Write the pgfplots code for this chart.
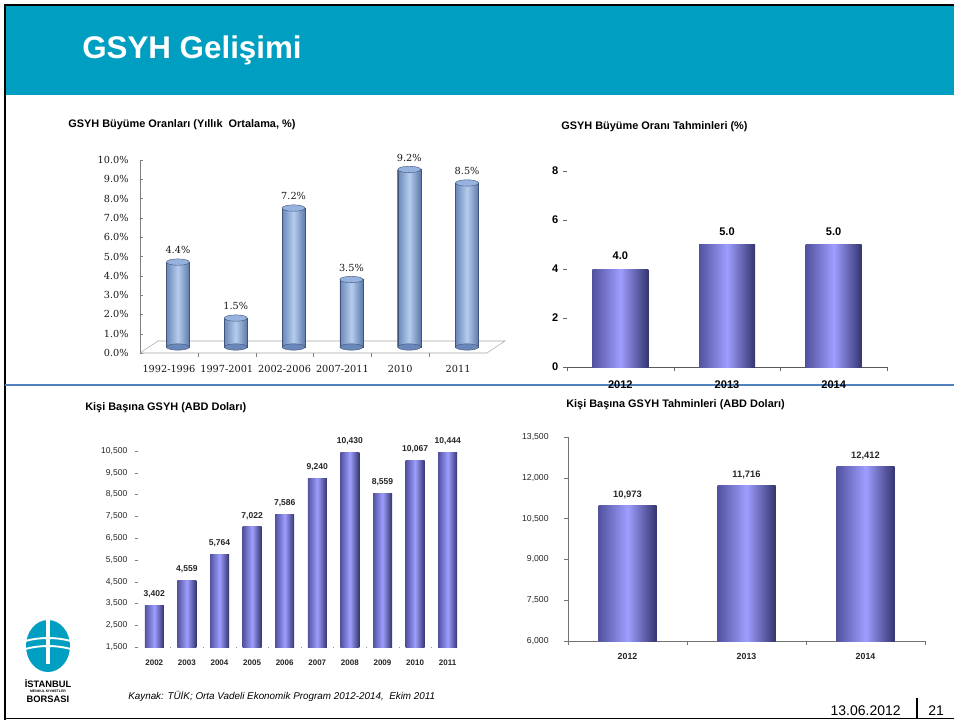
\documentclass[border=0pt]{standalone}
\usepackage{fontspec}
\setmainfont{Liberation Sans}
\newfontfamily\dserif{DejaVu Serif}
\usepackage{pgfplots}
\pgfplotsset{compat=1.18}
\pgfkeys{/pgf/number format/assume math mode=true}
\definecolor{teal1}{RGB}{0,159,194}
\definecolor{sepblue}{RGB}{79,129,189}
\definecolor{pL}{RGB}{82,82,160}
\definecolor{pM}{RGB}{158,158,255}
\definecolor{pR}{RGB}{52,52,112}
\definecolor{cL}{RGB}{105,135,185}
\definecolor{cM}{RGB}{182,204,236}
\definecolor{cR}{RGB}{92,122,172}
\definecolor{cTop}{RGB}{150,178,222}
\definecolor{axgray}{RGB}{128,128,128}
\pgfdeclareplotmark{cyl}{%
  \pgfpathellipse{\pgfpointorigin}{\pgfqpoint{8.6pt}{0pt}}{\pgfqpoint{0pt}{2.4pt}}%
  \pgfusepathqfillstroke}
\pgfplotsset{
  pbar/.style={ybar, bar width=#1, draw=none, left color=pL, right color=pR, middle color=pM, forget plot},
  cbar/.style={ybar, bar width=17.25pt, xshift=6.75pt, yshift=4.5pt, draw=cR!70!black, line width=0.3pt,
    left color=cL, right color=cR, middle color=cM, forget plot}
}
\begin{document}
\begin{tikzpicture}[x=0.75pt,y=-0.75pt]
\useasboundingbox (0,0) rectangle (954,722);
\fill[white] (0,0) rectangle (954,722);
\fill[teal1] (6,6) rectangle (954,95);
\draw[black,line width=2.2pt] (5,720) -- (5,5) -- (954,5);
\draw[black,line width=1.2pt] (5,718.5) -- (954,718.5);
\draw[sepblue,line width=2pt] (5,385) -- (954,385);
\node[anchor=base west,inner sep=0,text=white,font=\bfseries\fontsize{23.5}{26}\selectfont] at (82,58) {GSYH Gelişimi};
% subtitles
\node[anchor=base west,inner sep=0,font=\bfseries\fontsize{8.2}{10}\selectfont] at (68,127) {GSYH Büyüme Oranları (Yıllık\ \ Ortalama, \%)};
\node[anchor=base west,inner sep=0,font=\bfseries\fontsize{8.2}{10}\selectfont] at (561,129) {GSYH Büyüme Oranı Tahminleri (\%)};
\node[anchor=base west,inner sep=0,font=\bfseries\fontsize{8.2}{10}\selectfont] at (85,410) {Kişi Başına GSYH (ABD Doları)};
\node[anchor=base west,inner sep=0,font=\bfseries\fontsize{8.2}{10}\selectfont] at (566,407) {Kişi Başına GSYH Tahminleri (ABD Doları)};
% footer
\node[anchor=base west,inner sep=0,font=\itshape\fontsize{7.4}{9}\selectfont] at (128,699) {Kaynak: TÜİK; Orta Vadeli Ekonomik Program 2012-2014,\ \ Ekim 2011};
\node[anchor=base east,inner sep=0,font=\fontsize{10.5}{12}\selectfont] at (901,715) {13.06.2012};
\draw[black,line width=0.8pt] (917,698) -- (917,718);
\node[anchor=base west,inner sep=0,font=\fontsize{10.5}{12}\selectfont] at (928,715) {21};
% logo
\fill[teal1] (48,646) ellipse (22 and 26);
\fill[white] (46,619) rectangle (50,664);
\draw[white,line width=1.4pt] (25,641) .. controls (40,637) and (56,637) .. (71,641);
\draw[white,line width=1.4pt] (25,649) .. controls (40,645) and (56,645) .. (71,649);
\node[inner sep=0,font=\bfseries\fontsize{7}{8}\selectfont] at (48,684) {İSTANBUL};
\node[inner sep=0,font=\bfseries\fontsize{2.6}{3}\selectfont] at (48,691) {MENKUL KIYMETLER};
\node[inner sep=0,font=\bfseries\fontsize{7}{8}\selectfont] at (48,699) {BORSASI};

% ---------- Chart 1 ----------
\begin{axis}[at={(105pt,-264.75pt)}, anchor=south west, scale only axis,
  width=260.25pt, height=144.75pt,
  xmin=0.5, xmax=6.5, ymin=0, ymax=10,
  axis lines*=left, x axis line style={draw=none}, y axis line style={draw=axgray},
  ytick={0,1,...,10}, major tick length=2pt, tick style={axgray},
  yticklabel={\pgfmathprintnumber[fixed,fixed zerofill,precision=1]{\tick}\%},
  yticklabel style={font=\dserif\fontsize{7.3}{8}\selectfont, text=black!90, xshift=-5pt},
  xtick={1,...,6}, xticklabels={1992-1996,1997-2001,2002-2006,2007-2011,2010,2011},
  major x tick style={draw=none},
  minor xtick={1.5,2.5,3.5,4.5,5.5}, minor tick length=3pt, minor x tick style={axgray}, xtick align=outside,
  xticklabel style={font=\dserif\fontsize{7.3}{8}\selectfont, text=black!90, yshift=-4pt},
  clip=false]
\draw[axgray!70] (axis cs:0.5,0) -- ++(13.5pt,9pt) -- ([xshift=13.5pt,yshift=9pt]axis cs:6.5,0) -- (axis cs:6.5,0) -- cycle;
\addplot[only marks, xshift=6.75pt, yshift=4.5pt, mark=cyl, mark options={fill=cL, draw=cR!70!black, line width=0.3pt}]
  coordinates {(1,0)(2,0)(3,0)(4,0)(5,0)(6,0)};
\addplot[cbar] coordinates {(1,4.4)};
\addplot[cbar] coordinates {(2,1.5)};
\addplot[cbar] coordinates {(3,7.2)};
\addplot[cbar] coordinates {(4,3.5)};
\addplot[cbar] coordinates {(5,9.2)};
\addplot[cbar] coordinates {(6,8.5)};
\addplot[only marks, xshift=6.75pt, yshift=4.5pt, mark=cyl, mark options={fill=cTop, draw=cR!70!black, line width=0.3pt},
  nodes near coords={\pgfmathprintnumber[fixed,fixed zerofill,precision=1]{\pgfplotspointmeta}\%},
  nodes near coords style={font=\dserif\fontsize{7.3}{8}\selectfont, text=black!90, anchor=south, yshift=2.5pt}]
  coordinates {(1,4.4)(2,1.5)(3,7.2)(4,3.5)(5,9.2)(6,8.5)};
\end{axis}

% ---------- Chart 2 ----------
\begin{axis}[at={(425.25pt,-275.25pt)}, anchor=south west, scale only axis,
  width=240pt, height=147pt,
  xmin=0.5, xmax=3.5, ymin=0, ymax=8,
  axis lines*=left, y axis line style={draw=none}, x axis line style={draw=black!65},
  ytick={0,2,4,6,8}, tick align=outside, major tick length=3pt,
  major y tick style={black!60},
  yticklabel style={font=\bfseries\fontsize{8.3}{9}\selectfont},
  xtick={1,2,3}, xticklabels={2012,2013,2014}, major x tick style={draw=none},
  minor xtick={0.5,1.5,2.5,3.5}, minor tick length=3pt, minor x tick style={black!60},
  xticklabel style={font=\bfseries\fontsize{8.3}{9}\selectfont, yshift=-4pt},
  clip=false]
\addplot[pbar=42pt] coordinates {(1,4.0)};
\addplot[pbar=42pt] coordinates {(2,5.0)};
\addplot[pbar=42pt] coordinates {(3,5.0)};
\addplot[draw=none, mark=none,
  nodes near coords={\pgfmathprintnumber[fixed,fixed zerofill,precision=1]{\pgfplotspointmeta}},
  nodes near coords style={font=\bfseries\fontsize{8.3}{9}\selectfont, anchor=south, yshift=3.5pt}]
  coordinates {(1,4.0)(2,5.0)(3,5.0)};
\end{axis}

% ---------- Chart 3 ----------
\begin{axis}[at={(103.5pt,-485.25pt)}, anchor=south west, scale only axis,
  width=244.5pt, height=147pt,
  xmin=2001.5, xmax=2011.5, ymin=1500, ymax=10500,
  axis lines*=left, y axis line style={draw=none}, x axis line style={draw=none},
  scaled y ticks=false,
  ytick={1500,2500,...,10500}, tick align=outside, major tick length=2.5pt,
  major y tick style={black!50},
  yticklabel style={font=\fontsize{6.4}{7}\selectfont, text=black!85, xshift=-2pt},
  xtick={2002,...,2011}, xticklabels={2002,2003,2004,2005,2006,2007,2008,2009,2010,2011},
  major x tick style={draw=none},
  minor xtick={2002.5,2003.5,...,2010.5}, minor tick length=1pt, minor x tick style={black!40},
  xticklabel style={font=\bfseries\fontsize{6}{7}\selectfont, text=black!85, yshift=-4pt}]
\addplot[pbar=14.25pt] coordinates {(2002,3402)};
\addplot[pbar=14.25pt] coordinates {(2003,4559)};
\addplot[pbar=14.25pt] coordinates {(2004,5764)};
\addplot[pbar=14.25pt] coordinates {(2005,7022)};
\addplot[pbar=14.25pt] coordinates {(2006,7586)};
\addplot[pbar=14.25pt] coordinates {(2007,9240)};
\addplot[pbar=14.25pt] coordinates {(2008,10430)};
\addplot[pbar=14.25pt] coordinates {(2009,8559)};
\addplot[pbar=14.25pt] coordinates {(2010,10067)};
\addplot[pbar=14.25pt] coordinates {(2011,10444)};
\addplot[draw=none, mark=none, nodes near coords,
  nodes near coords style={font=\bfseries\fontsize{6.4}{7}\selectfont, text=black!85, anchor=south, yshift=2pt}]
  coordinates {(2002,3402)(2003,4559)(2004,5764)(2005,7022)(2006,7586)(2007,9240)(2008,10430)(2009,8559)(2010,10067)(2011,10444)};
\end{axis}

% ---------- Chart 4 ----------
\begin{axis}[at={(426pt,-480.75pt)}, anchor=south west, scale only axis,
  width=267.75pt, height=153pt,
  xmin=0.5, xmax=3.5, ymin=6000, ymax=13500,
  axis lines*=left, axis line style={draw=black!55},
  scaled y ticks=false,
  ytick={6000,7500,...,13500}, tick align=outside, major tick length=3pt,
  major y tick style={black!55},
  yticklabel style={font=\fontsize{6.5}{7}\selectfont, text=black!85, xshift=-8pt},
  xtick={1,2,3}, xticklabels={2012,2013,2014}, major x tick style={draw=none},
  minor xtick={0.5,1.5,2.5,3.5}, minor tick length=3pt, minor x tick style={black!55},
  xticklabel style={font=\bfseries\fontsize{6.6}{7}\selectfont, text=black!85, yshift=-3pt},
  clip=true]
\addplot[pbar=43.5pt] coordinates {(1,10973)};
\addplot[pbar=43.5pt] coordinates {(2,11716)};
\addplot[pbar=43.5pt] coordinates {(3,12412)};
\addplot[draw=none, mark=none, nodes near coords,
  nodes near coords style={font=\bfseries\fontsize{7}{8}\selectfont, text=black!85, anchor=south, yshift=1.5pt}]
  coordinates {(1,10973)(2,11716)(3,12412)};
\end{axis}
\end{tikzpicture}
\end{document}
